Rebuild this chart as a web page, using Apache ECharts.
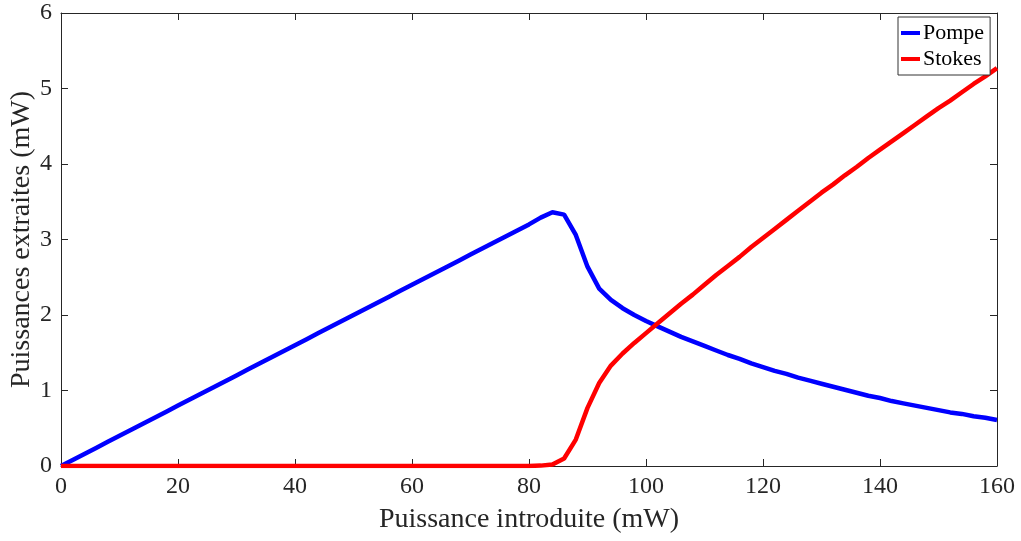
<!DOCTYPE html>
<html>
<head>
<meta charset="utf-8">
<script src="https://cdn.jsdelivr.net/npm/echarts@6/dist/echarts.min.js"></script>
<style>html,body{margin:0;padding:0;background:#fff}#c{width:1021px;height:541px}</style>
</head>
<body>
<div id="c"></div>
<script>
const xValues = [0,2,4,6,8,10,12,14,16,18,20,22,24,26,28,30,32,34,36,38,40,42,44,46,48,50,52,54,56,58,60,62,64,66,68,70,72,74,76,78,80,82,84,86,88,90,92,94,96,98,100,102,104,106,108,110,112,114,116,118,120,122,124,126,128,130,132,134,136,138,140,142,144,146,148,150,152,154,156,158,160];
const pompe = [0,0.08,0.16,0.24,0.32,0.40,0.48,0.56,0.64,0.72,0.80,0.88,0.96,1.04,1.12,1.20,1.28,1.36,1.44,1.52,1.60,1.68,1.76,1.84,1.92,2.00,2.08,2.16,2.24,2.32,2.40,2.48,2.56,2.64,2.72,2.80,2.88,2.96,3.04,3.12,3.20,3.29,3.36,3.33,3.06,2.64,2.35,2.20,2.09,2.00,1.92,1.85,1.78,1.71,1.65,1.59,1.53,1.47,1.42,1.36,1.31,1.26,1.22,1.17,1.13,1.09,1.05,1.01,0.97,0.93,0.90,0.86,0.83,0.80,0.77,0.74,0.71,0.69,0.66,0.64,0.61];
const stokes = [0,0,0,0,0,0,0,0,0,0,0,0,0,0,0,0,0,0,0,0,0,0,0,0,0,0,0,0,0,0,0,0,0,0,0,0,0,0,0,0,0,0.005,0.02,0.10,0.35,0.77,1.10,1.33,1.49,1.63,1.76,1.89,2.02,2.15,2.27,2.40,2.53,2.65,2.77,2.90,3.02,3.14,3.26,3.38,3.50,3.62,3.73,3.85,3.96,4.08,4.19,4.30,4.41,4.52,4.63,4.74,4.84,4.95,5.06,5.16,5.27];
const seriesNames = ['Pompe','Stokes'];
const xTitle = 'Puissance introduite (mW)';
const yTitle = 'Puissances extraites (mW)';

const font = 'Liberation Serif';
const axisColor = '#262626';
const pairs = arr => xValues.map((x,i)=>[x, arr[i]]);

const chart = echarts.init(document.getElementById('c'));
const baseAxis = {
  axisLine:{show:true, onZero:false, lineStyle:{color:axisColor, width:1}},
  axisTick:{show:true, inside:true, length:7, lineStyle:{color:axisColor}},
  splitLine:{show:false}
};
chart.setOption({
  animation:false,
  backgroundColor:'#fff',
  grid:{left:61, right:24, top:13, bottom:75, containLabel:false, outerBoundsMode:'none'},
  legend:{
    data:seriesNames, orient:'vertical', left:898, top:17,
    backgroundColor:'#fff', borderColor:'#333', borderWidth:1, borderRadius:0,
    padding:[5,6,5,3], itemGap:4, itemWidth:19, itemHeight:4, icon:'rect',
    textStyle:{fontFamily:font, fontSize:22, color:'#000', padding:[0,0,0,-2]}
  },
  xAxis:[
    Object.assign({}, baseAxis, {type:'value', min:0, max:160, interval:20, position:'bottom',
      name:xTitle, nameLocation:'middle', nameGap:40, nameMoveOverlap:false,
      nameTextStyle:{fontFamily:font, fontSize:28, color:'#262626'},
      axisLabel:{fontFamily:font, fontSize:24, color:'#262626', margin:9}}),
    Object.assign({}, baseAxis, {type:'value', min:0, max:160, interval:20, position:'top',
      axisLabel:{show:false}})
  ],
  yAxis:[
    Object.assign({}, baseAxis, {type:'value', min:0, max:6, interval:1, position:'left',
      name:yTitle, nameLocation:'middle', nameGap:25, nameRotate:90, nameMoveOverlap:false,
      nameTextStyle:{fontFamily:font, fontSize:28, color:'#262626'},
      axisLabel:{fontFamily:font, fontSize:24, color:'#262626', margin:9}}),
    Object.assign({}, baseAxis, {type:'value', min:0, max:6, interval:1, position:'right',
      axisLabel:{show:false}})
  ],
  series:[
    {name:seriesNames[0], type:'line', data:pairs(pompe), showSymbol:false, symbol:'none',
      lineStyle:{color:'#0000ff', width:4.5}, itemStyle:{color:'#0000ff'}, z:2},
    {name:seriesNames[1], type:'line', data:pairs(stokes), showSymbol:false, symbol:'none',
      lineStyle:{color:'#ff0000', width:4.5}, itemStyle:{color:'#ff0000'}, z:3}
  ]
});
</script>
</body>
</html>
